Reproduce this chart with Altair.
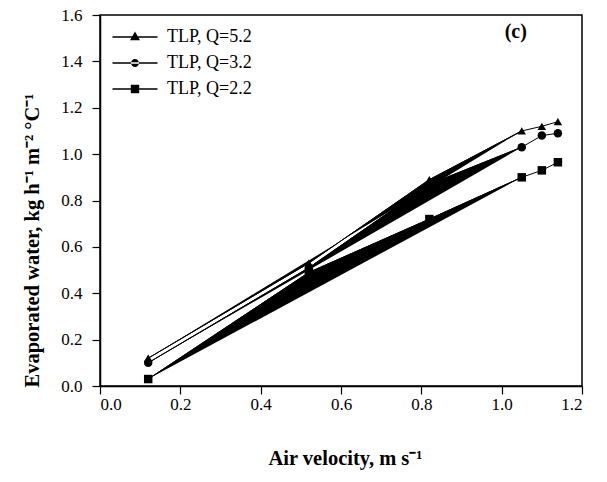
import altair as alt
import pandas as pd

# ---- data ----
air_velocity = [0.12, 0.52, 0.82, 1.05, 1.10, 1.14]
q52 = [0.12, 0.53, 0.89, 1.10, 1.12, 1.14]
q32 = [0.10, 0.51, 0.87, 1.03, 1.08, 1.09]
q22 = [0.03, 0.49, 0.72, 0.90, 0.93, 0.965]
series_names = ["TLP, Q=5.2", "TLP, Q=3.2", "TLP, Q=2.2"]
x_ticks = [0.0, 0.2, 0.4, 0.6, 0.8, 1.0, 1.2]
y_ticks = [0.0, 0.2, 0.4, 0.6, 0.8, 1.0, 1.2, 1.4, 1.6]
panel_label = "(c)"
panel_label_x = [1.035]
panel_label_y = [1.525]
filled_upto = 1.05  # the black filled band in the figure ends at this velocity

rows = []
for name, vals in zip(series_names, [q52, q32, q22]):
    for i, (xv, yv) in enumerate(zip(air_velocity, vals)):
        rows.append({"series": name, "x": xv, "y": yv, "order": i})
df = pd.DataFrame(rows)

FONT = "Liberation Serif"

x_enc = alt.X("x:Q", scale=alt.Scale(domain=[0, 1.2], nice=False),
              axis=alt.Axis(values=x_ticks, format=".1f", title="Air velocity, m s⁻¹",
                            titleX=245, titleY=72, titleAnchor="middle", titleBaseline="middle",
                            grid=False, tickSize=8, labelPadding=2))
y_enc = alt.Y("y:Q", scale=alt.Scale(domain=[0, 1.6], nice=False),
              axis=alt.Axis(values=y_ticks, format=".1f",
                            title="Evaporated water, kg h⁻¹ m⁻² °C⁻¹",
                            titleX=-68, titleY=225, titleAngle=-90, titleAnchor="middle",
                            titleAlign="center", titleBaseline="middle",
                            grid=False, tickSize=8, labelPadding=10))

base = alt.Chart(df)

band = base.transform_filter(f"datum.x <= {filled_upto}").mark_line(
    fill="black", stroke="black", strokeWidth=1
).encode(x=x_enc, y=y_enc, detail="series:N", order="order:Q")

lines = base.mark_line(color="black", strokeWidth=1).encode(
    x=x_enc, y=y_enc, detail="series:N", order="order:Q")

points = base.mark_point(filled=True, color="black", opacity=1, size=72).encode(
    x=x_enc, y=y_enc,
    shape=alt.Shape("series:N", scale=alt.Scale(domain=series_names,
                                                range=["triangle-up", "circle", "square"]),
                    legend=None))

# legend symbols: a thin filled bar (the line) plus the marker
legend_paths = [
    "M-2.25,-0.07H2.25V0.07H-2.25ZM0,-0.55L0.5,0.32L-0.5,0.32Z",
    "M-2.25,-0.07H2.25V0.07H-2.25ZM-0.4,0A0.4,0.4 0 1,0 0.4,0A0.4,0.4 0 1,0 -0.4,0Z",
    "M-2.25,-0.07H2.25V0.07H-2.25ZM-0.42,-0.42H0.42V0.42H-0.42Z",
]
legend_layer = base.transform_filter("datum.x < 0").mark_point(
    filled=True, color="black", opacity=1
).encode(
    x=x_enc, y=y_enc,
    shape=alt.Shape("series:N", scale=alt.Scale(domain=series_names, range=legend_paths),
                    legend=alt.Legend(title=None, orient="none", legendX=25, legendY=12,
                                      symbolSize=400, symbolFillColor="black",
                                      symbolStrokeColor="black", symbolStrokeWidth=0,
                                      symbolOpacity=1, labelFont=FONT, labelFontSize=18,
                                      labelColor="black", labelOffset=22, rowPadding=7,
                                      padding=0, symbolOffset=0)))

label = alt.Chart(pd.DataFrame({"lx": panel_label_x, "ly": panel_label_y, "t": [panel_label]})).mark_text(
    font=FONT, fontSize=20, fontWeight="bold", color="black"
).encode(x=alt.X("lx:Q", scale=alt.Scale(domain=[0, 1.2], nice=False)),
         y=alt.Y("ly:Q", scale=alt.Scale(domain=[0, 1.6], nice=False)), text="t:N")

chart = alt.layer(band, lines, points, legend_layer, label).resolve_scale(
    shape="independent"
).properties(
    width=482, height=371,
    autosize=alt.AutoSizeParams(type="none"),
    padding={"left": 100, "top": 15, "right": 25, "bottom": 96},
    background="white",
).configure_view(stroke="black", strokeWidth=1.5).configure_axis(
    domainColor="black", tickColor="black", labelColor="black", titleColor="black",
    labelFont=FONT, labelFontSize=17, titleFont=FONT, titleFontSize=20.5,
    titleFontWeight="bold", domainWidth=1.5, tickWidth=1.2,
)

chart.save("out.html", embed_options={"renderer": "svg", "actions": False})
